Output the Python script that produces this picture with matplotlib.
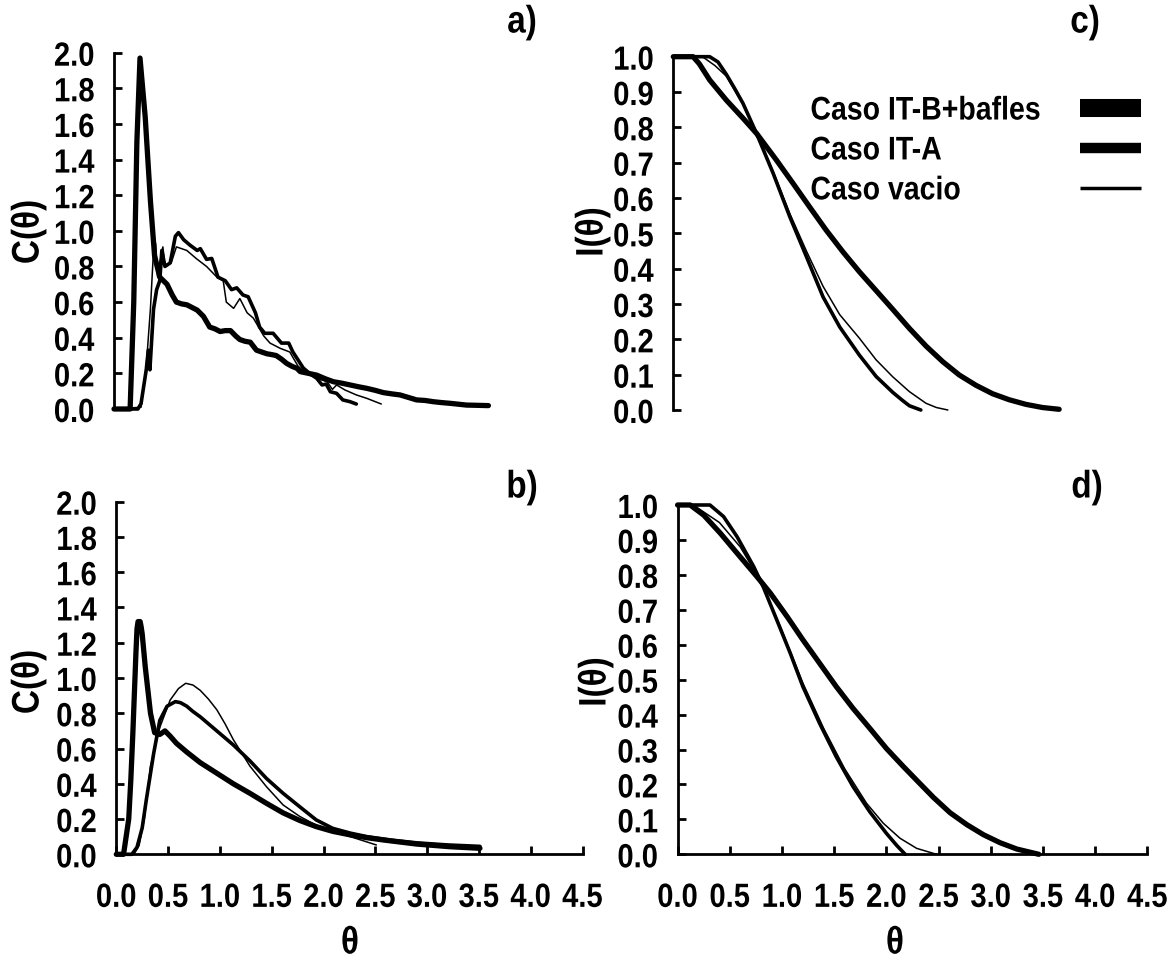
import matplotlib
matplotlib.use('Agg')
import matplotlib.pyplot as plt
from matplotlib.patheffects import AbstractPathEffect
from matplotlib.transforms import Affine2D

plt.rcParams['font.family'] = ['Liberation Sans', 'DejaVu Sans']
plt.rcParams['font.weight'] = 'bold'


class Tall(AbstractPathEffect):
    # stretch glyphs vertically (narrow/tall look of the original font)
    def __init__(self, sy=1.15):
        super().__init__()
        self.sy = sy

    def draw_path(self, renderer, gc, tpath, affine, rgbFace=None):
        renderer.draw_path(gc, tpath, Affine2D().scale(1, self.sy) + affine, rgbFace)


TALL = [Tall(1.15)]

# ---- panel a : C(theta) experimental ----
a_itb_x = [0, 0.155, 0.19, 0.22, 0.25, 0.30, 0.35, 0.39, 0.44, 0.51, 0.56, 0.60, 0.65, 0.70, 0.75, 0.80,
           0.86, 0.92, 0.97, 1.02, 1.07, 1.12, 1.17, 1.21, 1.26, 1.31, 1.37, 1.42, 1.47, 1.52, 1.56, 1.61,
           1.66, 1.71, 1.76, 1.79, 1.87, 1.95, 2.03, 2.11, 2.19, 2.27, 2.35, 2.43, 2.51, 2.59, 2.67, 2.75,
           2.83, 2.91, 2.99, 3.07, 3.15, 3.23, 3.31, 3.39, 3.47, 3.60]
a_itb_y = [0, 0, 0.6, 1.5, 1.97, 1.64, 1.17, 0.86, 0.74, 0.70, 0.64, 0.60, 0.59, 0.585, 0.57, 0.555,
           0.52, 0.46, 0.45, 0.435, 0.44, 0.44, 0.41, 0.39, 0.38, 0.375, 0.33, 0.32, 0.31, 0.305, 0.30, 0.28,
           0.256, 0.24, 0.228, 0.21, 0.20, 0.19, 0.17, 0.153, 0.145, 0.135, 0.125, 0.116, 0.105, 0.092, 0.085, 0.079,
           0.065, 0.051, 0.048, 0.041, 0.036, 0.032, 0.027, 0.022, 0.021, 0.019]
a_ita_x = [0, 0.23, 0.26, 0.31, 0.33, 0.345, 0.38, 0.41, 0.44, 0.46, 0.49, 0.54, 0.59, 0.62, 0.67, 0.73,
           0.80, 0.83, 0.89, 0.94, 1.00, 1.07, 1.13, 1.18, 1.24, 1.29, 1.36, 1.40, 1.45, 1.53, 1.61, 1.68,
           1.72, 1.77, 1.82, 1.88, 1.95, 2.00, 2.04, 2.08, 2.14, 2.20, 2.27, 2.33]
a_ita_y = [0, 0, 0.03, 0.22, 0.33, 0.22, 0.56, 0.67, 0.72, 0.89, 0.80, 0.82, 0.97, 0.99, 0.95, 0.92,
           0.89, 0.90, 0.84, 0.845, 0.74, 0.72, 0.67, 0.68, 0.64, 0.63, 0.54, 0.46, 0.425, 0.425, 0.37, 0.37,
           0.32, 0.275, 0.23, 0.20, 0.172, 0.135, 0.14, 0.097, 0.088, 0.051, 0.041, 0.028]
a_vac_x = [0, 0.26, 0.31, 0.35, 0.38, 0.40, 0.42, 0.44, 0.47, 0.49, 0.55, 0.60, 0.70, 0.79, 0.89, 0.99,
           1.05, 1.08, 1.15, 1.21, 1.28, 1.34, 1.44, 1.50, 1.60, 1.69, 1.77, 1.85, 1.95, 2.05, 2.10, 2.14,
           2.22, 2.33, 2.43, 2.57]
a_vac_y = [0, 0.01, 0.24, 0.56, 0.89, 0.93, 0.74, 0.82, 0.91, 0.80, 0.82, 0.91, 0.89, 0.845, 0.80, 0.74,
           0.72, 0.60, 0.565, 0.62, 0.54, 0.51, 0.41, 0.37, 0.34, 0.32, 0.24, 0.20, 0.172, 0.153, 0.11, 0.135,
           0.107, 0.079, 0.06, 0.028]

# ---- panel b : C(theta) model ----
b_itb_x = [0, 0.07, 0.12, 0.14, 0.16, 0.19, 0.20, 0.21, 0.23, 0.24, 0.25, 0.28, 0.33, 0.37, 0.42, 0.47,
           0.52, 0.58, 0.68, 0.81, 0.97, 1.13, 1.29, 1.45, 1.61, 1.77, 1.93, 2.09, 2.26, 2.42, 2.58, 2.90,
           3.22, 3.51]
b_itb_y = [0, 0, 0.2, 0.42, 0.69, 1.15, 1.28, 1.32, 1.32, 1.29, 1.25, 1.06, 0.80, 0.69, 0.68, 0.70,
           0.67, 0.63, 0.58, 0.52, 0.46, 0.40, 0.346, 0.289, 0.235, 0.192, 0.157, 0.13, 0.110, 0.094, 0.081, 0.058,
           0.043, 0.034]
b_ita_x = [0, 0.15, 0.20, 0.25, 0.29, 0.36, 0.42, 0.49, 0.57, 0.62, 0.68, 0.74, 0.81, 0.95, 1.13, 1.29,
           1.45, 1.61, 1.77, 1.93, 2.09, 2.26, 2.42, 2.66, 2.90, 3.20, 3.51]
b_ita_y = [0, 0, 0.04, 0.15, 0.31, 0.57, 0.76, 0.84, 0.866, 0.86, 0.84, 0.81, 0.78, 0.71, 0.62, 0.53,
           0.43, 0.346, 0.27, 0.195, 0.147, 0.12, 0.10, 0.08, 0.065, 0.053, 0.045]
b_vac_x = [0, 0.17, 0.22, 0.27, 0.33, 0.42, 0.52, 0.60, 0.67, 0.74, 0.81, 0.89, 0.97, 1.05, 1.13, 1.29,
           1.45, 1.61, 1.77, 1.93, 2.10, 2.26, 2.51]
b_vac_y = [0, 0, 0.05, 0.2, 0.50, 0.72, 0.875, 0.94, 0.97, 0.96, 0.93, 0.88, 0.82, 0.74, 0.65, 0.50,
           0.383, 0.28, 0.215, 0.165, 0.13, 0.10, 0.053]

# ---- panel c : I(theta) experimental ----
c_itb_x = [0, 0.19, 0.25, 0.35, 0.51, 0.67, 0.80, 0.99, 1.15, 1.31, 1.47, 1.63, 1.79, 1.95, 2.11, 2.27,
           2.43, 2.59, 2.75, 2.91, 3.07, 3.23, 3.39, 3.55, 3.71]
c_itb_y = [1, 1, 0.98, 0.934, 0.877, 0.826, 0.783, 0.708, 0.642, 0.575, 0.509, 0.448, 0.391, 0.338, 0.285, 0.231,
           0.181, 0.137, 0.099, 0.070, 0.046, 0.029, 0.016, 0.007, 0.002]
c_ita_x = [0, 0.35, 0.43, 0.51, 0.59, 0.67, 0.80, 0.96, 1.12, 1.28, 1.44, 1.60, 1.79, 1.95, 2.11, 2.20, 2.27, 2.38]
c_ita_y = [1, 1, 0.985, 0.95, 0.91, 0.868, 0.783, 0.67, 0.547, 0.434, 0.32, 0.235, 0.155, 0.095, 0.05, 0.028, 0.012, 0.0]
c_vac_x = [0, 0.28, 0.40, 0.51, 0.67, 0.80, 0.96, 1.12, 1.28, 1.44, 1.60, 1.79, 1.95, 2.11, 2.27, 2.43, 2.53, 2.64]
c_vac_y = [1, 1, 0.975, 0.945, 0.865, 0.783, 0.675, 0.556, 0.45, 0.35, 0.27, 0.203, 0.142, 0.094, 0.052, 0.019, 0.007, 0.0]

# ---- panel d : I(theta) model ----
d_itb_x = [0, 0.12, 0.25, 0.41, 0.57, 0.76, 0.89, 1.05, 1.20, 1.36, 1.52, 1.68, 1.84, 2.00, 2.16, 2.29,
           2.45, 2.61, 2.77, 2.93, 3.09, 3.25, 3.46]
d_itb_y = [1, 1, 0.971, 0.919, 0.862, 0.795, 0.747, 0.680, 0.614, 0.547, 0.480, 0.418, 0.361, 0.303, 0.252, 0.212,
           0.163, 0.119, 0.085, 0.056, 0.033, 0.015, 0.0]
d_ita_x = [0, 0.31, 0.44, 0.57, 0.73, 0.82, 0.95, 1.08, 1.20, 1.36, 1.52, 1.68, 1.84, 2.00, 2.10, 2.18]
d_ita_y = [1, 1, 0.967, 0.909, 0.823, 0.766, 0.671, 0.575, 0.48, 0.375, 0.279, 0.194, 0.122, 0.060, 0.025, 0.0]
d_vac_x = [0, 0.15, 0.40, 0.60, 0.80, 1.00, 1.20, 1.40, 1.60, 1.81, 1.97, 2.13, 2.29, 2.48]
d_vac_y = [1, 1, 0.95, 0.88, 0.78, 0.64, 0.49, 0.36, 0.245, 0.146, 0.089, 0.046, 0.017, 0.0]

leg_labels = ['Caso IT-B+bafles', 'Caso IT-A', 'Caso vacio']
leg_lw = [13, 7.5, 2.5]
lw_itb, lw_ita, lw_vac = 3.8, 2.6, 1.1

c_ticks = [0.0, 0.2, 0.4, 0.6, 0.8, 1.0, 1.2, 1.4, 1.6, 1.8, 2.0]
i_ticks = [0.0, 0.1, 0.2, 0.3, 0.4, 0.5, 0.6, 0.7, 0.8, 0.9, 1.0]
x_ticks = [0.0, 0.5, 1.0, 1.5, 2.0, 2.5, 3.0, 3.5, 4.0, 4.5]

fig = plt.figure(figsize=(11.73, 9.67), dpi=100)
W, H = 1173.0, 967.0

def make_ax(x0, x45, ytop, ybot):
    return fig.add_axes([x0 / W, 1 - ybot / H, (x45 - x0) / W, (ybot - ytop) / H])

ax_a = make_ax(114, 582, 52.7, 409)
ax_b = make_ax(116.3, 582.5, 501.7, 854.3)
ax_c = make_ax(673.3, 1141.3, 56.7, 410)
ax_d = make_ax(677.6, 1147.4, 505, 854.3)

panels = [
    (ax_a, (a_itb_x, a_itb_y), (a_ita_x, a_ita_y), (a_vac_x, a_vac_y), c_ticks, 2.0, False),
    (ax_b, (b_itb_x, b_itb_y), (b_ita_x, b_ita_y), (b_vac_x, b_vac_y), c_ticks, 2.0, True),
    (ax_c, (c_itb_x, c_itb_y), (c_ita_x, c_ita_y), (c_vac_x, c_vac_y), i_ticks, 1.0, False),
    (ax_d, (d_itb_x, d_itb_y), (d_ita_x, d_ita_y), (d_vac_x, d_vac_y), i_ticks, 1.0, True),
]

for ax, itb, ita, vac, yt, ymax, show_x in panels:
    ax.plot(itb[0], itb[1], color='black', lw=lw_itb, solid_capstyle='round', solid_joinstyle='round', clip_on=False)
    ax.plot(ita[0], ita[1], color='black', lw=lw_ita, solid_capstyle='round', solid_joinstyle='round', clip_on=False)
    ax.plot(vac[0], vac[1], color='black', lw=lw_vac, solid_capstyle='round', solid_joinstyle='round', clip_on=False)
    ax.set_xlim(0, 4.5)
    ax.set_ylim(0, ymax)
    ax.set_yticks(yt)
    ax.set_yticklabels(['%.1f' % v for v in yt])
    ax.spines['top'].set_visible(False)
    ax.spines['right'].set_visible(False)
    ax.spines['left'].set_linewidth(2)
    ax.tick_params(axis='y', direction='in', length=6, width=2, pad=14, labelsize=21)
    for t in ax.get_yticklabels():
        t.set_path_effects(TALL)
        t.set_va('baseline')
    if show_x:
        ax.set_xticks(x_ticks)
        ax.set_xticklabels(['%.1f' % v for v in x_ticks])
        ax.spines['bottom'].set_linewidth(2)
        ax.tick_params(axis='x', direction='in', length=6, width=2, pad=22, labelsize=21)
        for t in ax.get_xticklabels():
            t.set_path_effects(TALL)
    else:
        ax.spines['bottom'].set_visible(False)
        ax.set_xticks([])
    ax.patch.set_visible(False)

# y tick labels: baseline aligned, shift down so the tall glyphs centre on the tick
for ax in [ax_a, ax_b, ax_c, ax_d]:
    off = matplotlib.transforms.ScaledTranslation(0, -13 / 100, fig.dpi_scale_trans)
    for t in ax.get_yticklabels():
        t.set_transform(t.get_transform() + off)

# legend drawn in panel c
for i, (lab, lw) in enumerate(zip(leg_labels, leg_lw)):
    yy = 0.842 - i * 0.113
    ax_c.text(0.293, yy, lab, transform=ax_c.transAxes, fontsize=20.5, fontweight='bold', va='center', ha='left',
              path_effects=TALL)
    ax_c.plot([0.869, 1.0], [yy + 0.012, yy + 0.012], transform=ax_c.transAxes, color='black',
              lw=lw, solid_capstyle='butt', clip_on=False)

# axis labels
lab_kw = dict(fontsize=24, fontweight='bold', path_effects=TALL)
fig.text(30 / W, 1 - 232 / H, 'C(θ)', rotation=90, ha='center', va='center', **lab_kw)
fig.text(30 / W, 1 - 682 / H, 'C(θ)', rotation=90, ha='center', va='center', **lab_kw)
fig.text(594 / W, 1 - 232 / H, 'I(θ)', rotation=90, ha='center', va='center', **lab_kw)
fig.text(597 / W, 1 - 682 / H, 'I(θ)', rotation=90, ha='center', va='center', **lab_kw)
fig.text(350 / W, 1 - 945 / H, 'θ', ha='center', va='center', **lab_kw)
fig.text(895 / W, 1 - 945 / H, 'θ', ha='center', va='center', **lab_kw)

# panel letters
for lab, px, py in [('a)', 522, 24), ('b)', 522, 489), ('c)', 1085, 24), ('d)', 1087, 489)]:
    fig.text(px / W, 1 - py / H, lab, ha='center', va='center', **lab_kw)

fig.savefig('out.png', dpi=100)
